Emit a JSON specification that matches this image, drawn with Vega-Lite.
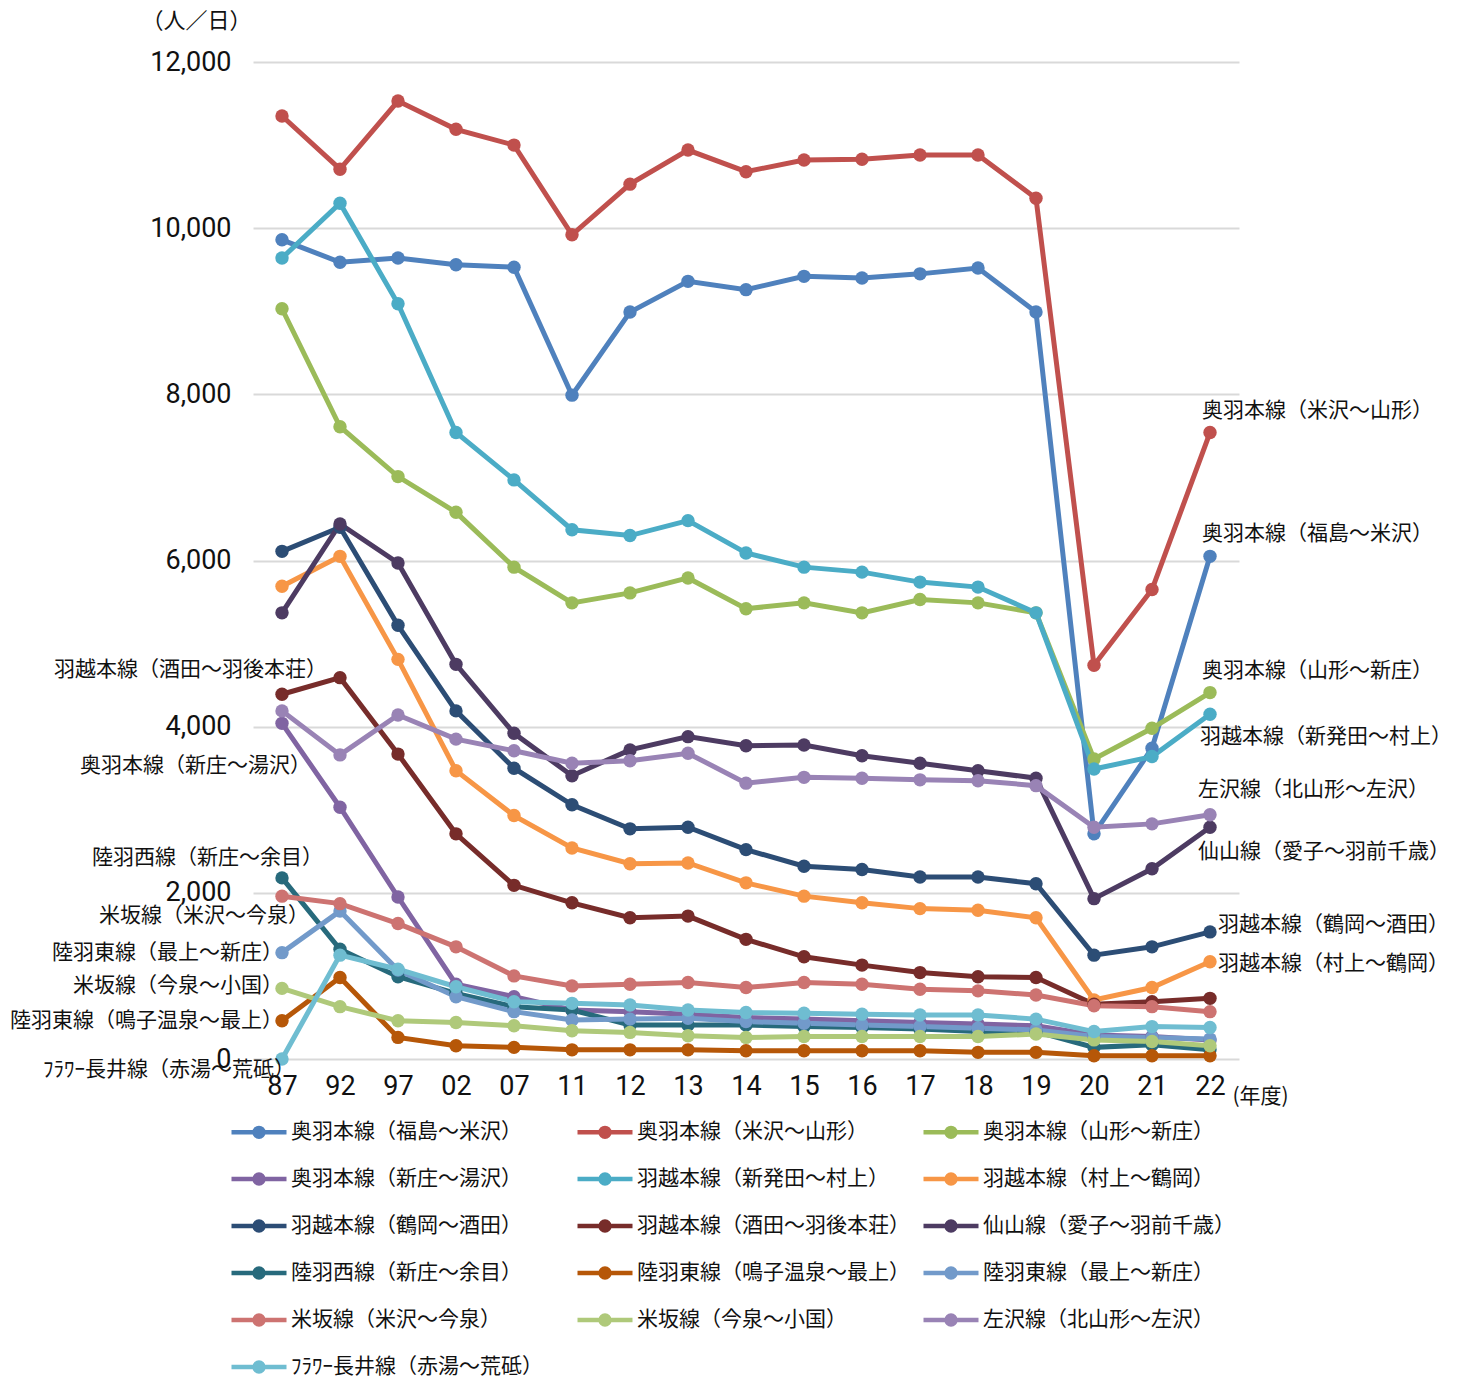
{
 "$schema": "https://vega.github.io/schema/vega-lite/v6.json",
 "width": 986,
 "height": 997,
 "autosize": {"type": "none"},
 "padding": {"left": 253, "top": 62, "right": 220, "bottom": 322},
 "background": "white",
 "config": {"view": {"stroke": null}, "font": "Noto Sans CJK JP"},
 "datasets": {
  "d": [
   {"series":"奥羽本線（福島～米沢）","year":"87","value":9860},{"series":"奥羽本線（福島～米沢）","year":"92","value":9590},{"series":"奥羽本線（福島～米沢）","year":"97","value":9640},{"series":"奥羽本線（福島～米沢）","year":"02","value":9560},{"series":"奥羽本線（福島～米沢）","year":"07","value":9530},{"series":"奥羽本線（福島～米沢）","year":"11","value":7990},{"series":"奥羽本線（福島～米沢）","year":"12","value":8990},{"series":"奥羽本線（福島～米沢）","year":"13","value":9360},{"series":"奥羽本線（福島～米沢）","year":"14","value":9260},{"series":"奥羽本線（福島～米沢）","year":"15","value":9420},{"series":"奥羽本線（福島～米沢）","year":"16","value":9400},{"series":"奥羽本線（福島～米沢）","year":"17","value":9450},{"series":"奥羽本線（福島～米沢）","year":"18","value":9520},{"series":"奥羽本線（福島～米沢）","year":"19","value":8990},{"series":"奥羽本線（福島～米沢）","year":"20","value":2710},{"series":"奥羽本線（福島～米沢）","year":"21","value":3740},{"series":"奥羽本線（福島～米沢）","year":"22","value":6050},
   {"series":"奥羽本線（米沢～山形）","year":"87","value":11350},{"series":"奥羽本線（米沢～山形）","year":"92","value":10710},{"series":"奥羽本線（米沢～山形）","year":"97","value":11530},{"series":"奥羽本線（米沢～山形）","year":"02","value":11190},{"series":"奥羽本線（米沢～山形）","year":"07","value":11000},{"series":"奥羽本線（米沢～山形）","year":"11","value":9920},{"series":"奥羽本線（米沢～山形）","year":"12","value":10530},{"series":"奥羽本線（米沢～山形）","year":"13","value":10940},{"series":"奥羽本線（米沢～山形）","year":"14","value":10680},{"series":"奥羽本線（米沢～山形）","year":"15","value":10820},{"series":"奥羽本線（米沢～山形）","year":"16","value":10830},{"series":"奥羽本線（米沢～山形）","year":"17","value":10880},{"series":"奥羽本線（米沢～山形）","year":"18","value":10880},{"series":"奥羽本線（米沢～山形）","year":"19","value":10360},{"series":"奥羽本線（米沢～山形）","year":"20","value":4740},{"series":"奥羽本線（米沢～山形）","year":"21","value":5650},{"series":"奥羽本線（米沢～山形）","year":"22","value":7540},
   {"series":"奥羽本線（山形～新庄）","year":"87","value":9030},{"series":"奥羽本線（山形～新庄）","year":"92","value":7610},{"series":"奥羽本線（山形～新庄）","year":"97","value":7010},{"series":"奥羽本線（山形～新庄）","year":"02","value":6580},{"series":"奥羽本線（山形～新庄）","year":"07","value":5920},{"series":"奥羽本線（山形～新庄）","year":"11","value":5490},{"series":"奥羽本線（山形～新庄）","year":"12","value":5610},{"series":"奥羽本線（山形～新庄）","year":"13","value":5790},{"series":"奥羽本線（山形～新庄）","year":"14","value":5420},{"series":"奥羽本線（山形～新庄）","year":"15","value":5490},{"series":"奥羽本線（山形～新庄）","year":"16","value":5370},{"series":"奥羽本線（山形～新庄）","year":"17","value":5530},{"series":"奥羽本線（山形～新庄）","year":"18","value":5490},{"series":"奥羽本線（山形～新庄）","year":"19","value":5370},{"series":"奥羽本線（山形～新庄）","year":"20","value":3610},{"series":"奥羽本線（山形～新庄）","year":"21","value":3980},{"series":"奥羽本線（山形～新庄）","year":"22","value":4410},
   {"series":"奥羽本線（新庄～湯沢）","year":"87","value":4040},{"series":"奥羽本線（新庄～湯沢）","year":"92","value":3030},{"series":"奥羽本線（新庄～湯沢）","year":"97","value":1950},{"series":"奥羽本線（新庄～湯沢）","year":"02","value":900},{"series":"奥羽本線（新庄～湯沢）","year":"07","value":750},{"series":"奥羽本線（新庄～湯沢）","year":"11","value":590},{"series":"奥羽本線（新庄～湯沢）","year":"12","value":570},{"series":"奥羽本線（新庄～湯沢）","year":"13","value":540},{"series":"奥羽本線（新庄～湯沢）","year":"14","value":500},{"series":"奥羽本線（新庄～湯沢）","year":"15","value":480},{"series":"奥羽本線（新庄～湯沢）","year":"16","value":460},{"series":"奥羽本線（新庄～湯沢）","year":"17","value":440},{"series":"奥羽本線（新庄～湯沢）","year":"18","value":420},{"series":"奥羽本線（新庄～湯沢）","year":"19","value":400},{"series":"奥羽本線（新庄～湯沢）","year":"20","value":290},{"series":"奥羽本線（新庄～湯沢）","year":"21","value":270},{"series":"奥羽本線（新庄～湯沢）","year":"22","value":230},
   {"series":"羽越本線（新発田～村上）","year":"87","value":9640},{"series":"羽越本線（新発田～村上）","year":"92","value":10300},{"series":"羽越本線（新発田～村上）","year":"97","value":9090},{"series":"羽越本線（新発田～村上）","year":"02","value":7540},{"series":"羽越本線（新発田～村上）","year":"07","value":6970},{"series":"羽越本線（新発田～村上）","year":"11","value":6370},{"series":"羽越本線（新発田～村上）","year":"12","value":6300},{"series":"羽越本線（新発田～村上）","year":"13","value":6480},{"series":"羽越本線（新発田～村上）","year":"14","value":6090},{"series":"羽越本線（新発田～村上）","year":"15","value":5920},{"series":"羽越本線（新発田～村上）","year":"16","value":5860},{"series":"羽越本線（新発田～村上）","year":"17","value":5740},{"series":"羽越本線（新発田～村上）","year":"18","value":5680},{"series":"羽越本線（新発田～村上）","year":"19","value":5370},{"series":"羽越本線（新発田～村上）","year":"20","value":3490},{"series":"羽越本線（新発田～村上）","year":"21","value":3640},{"series":"羽越本線（新発田～村上）","year":"22","value":4150},
   {"series":"羽越本線（村上～鶴岡）","year":"87","value":5690},{"series":"羽越本線（村上～鶴岡）","year":"92","value":6050},{"series":"羽越本線（村上～鶴岡）","year":"97","value":4810},{"series":"羽越本線（村上～鶴岡）","year":"02","value":3470},{"series":"羽越本線（村上～鶴岡）","year":"07","value":2930},{"series":"羽越本線（村上～鶴岡）","year":"11","value":2540},{"series":"羽越本線（村上～鶴岡）","year":"12","value":2350},{"series":"羽越本線（村上～鶴岡）","year":"13","value":2360},{"series":"羽越本線（村上～鶴岡）","year":"14","value":2120},{"series":"羽越本線（村上～鶴岡）","year":"15","value":1960},{"series":"羽越本線（村上～鶴岡）","year":"16","value":1880},{"series":"羽越本線（村上～鶴岡）","year":"17","value":1810},{"series":"羽越本線（村上～鶴岡）","year":"18","value":1790},{"series":"羽越本線（村上～鶴岡）","year":"19","value":1700},{"series":"羽越本線（村上～鶴岡）","year":"20","value":710},{"series":"羽越本線（村上～鶴岡）","year":"21","value":860},{"series":"羽越本線（村上～鶴岡）","year":"22","value":1170},
   {"series":"羽越本線（鶴岡～酒田）","year":"87","value":6110},{"series":"羽越本線（鶴岡～酒田）","year":"92","value":6400},{"series":"羽越本線（鶴岡～酒田）","year":"97","value":5220},{"series":"羽越本線（鶴岡～酒田）","year":"02","value":4190},{"series":"羽越本線（鶴岡～酒田）","year":"07","value":3500},{"series":"羽越本線（鶴岡～酒田）","year":"11","value":3060},{"series":"羽越本線（鶴岡～酒田）","year":"12","value":2770},{"series":"羽越本線（鶴岡～酒田）","year":"13","value":2790},{"series":"羽越本線（鶴岡～酒田）","year":"14","value":2520},{"series":"羽越本線（鶴岡～酒田）","year":"15","value":2320},{"series":"羽越本線（鶴岡～酒田）","year":"16","value":2280},{"series":"羽越本線（鶴岡～酒田）","year":"17","value":2190},{"series":"羽越本線（鶴岡～酒田）","year":"18","value":2190},{"series":"羽越本線（鶴岡～酒田）","year":"19","value":2110},{"series":"羽越本線（鶴岡～酒田）","year":"20","value":1250},{"series":"羽越本線（鶴岡～酒田）","year":"21","value":1350},{"series":"羽越本線（鶴岡～酒田）","year":"22","value":1530},
   {"series":"羽越本線（酒田～羽後本荘）","year":"87","value":4390},{"series":"羽越本線（酒田～羽後本荘）","year":"92","value":4590},{"series":"羽越本線（酒田～羽後本荘）","year":"97","value":3670},{"series":"羽越本線（酒田～羽後本荘）","year":"02","value":2710},{"series":"羽越本線（酒田～羽後本荘）","year":"07","value":2090},{"series":"羽越本線（酒田～羽後本荘）","year":"11","value":1880},{"series":"羽越本線（酒田～羽後本荘）","year":"12","value":1700},{"series":"羽越本線（酒田～羽後本荘）","year":"13","value":1720},{"series":"羽越本線（酒田～羽後本荘）","year":"14","value":1440},{"series":"羽越本線（酒田～羽後本荘）","year":"15","value":1230},{"series":"羽越本線（酒田～羽後本荘）","year":"16","value":1130},{"series":"羽越本線（酒田～羽後本荘）","year":"17","value":1040},{"series":"羽越本線（酒田～羽後本荘）","year":"18","value":990},{"series":"羽越本線（酒田～羽後本荘）","year":"19","value":980},{"series":"羽越本線（酒田～羽後本荘）","year":"20","value":660},{"series":"羽越本線（酒田～羽後本荘）","year":"21","value":690},{"series":"羽越本線（酒田～羽後本荘）","year":"22","value":730},
   {"series":"仙山線（愛子～羽前千歳）","year":"87","value":5370},{"series":"仙山線（愛子～羽前千歳）","year":"92","value":6440},{"series":"仙山線（愛子～羽前千歳）","year":"97","value":5970},{"series":"仙山線（愛子～羽前千歳）","year":"02","value":4750},{"series":"仙山線（愛子～羽前千歳）","year":"07","value":3920},{"series":"仙山線（愛子～羽前千歳）","year":"11","value":3410},{"series":"仙山線（愛子～羽前千歳）","year":"12","value":3720},{"series":"仙山線（愛子～羽前千歳）","year":"13","value":3880},{"series":"仙山線（愛子～羽前千歳）","year":"14","value":3770},{"series":"仙山線（愛子～羽前千歳）","year":"15","value":3780},{"series":"仙山線（愛子～羽前千歳）","year":"16","value":3650},{"series":"仙山線（愛子～羽前千歳）","year":"17","value":3560},{"series":"仙山線（愛子～羽前千歳）","year":"18","value":3470},{"series":"仙山線（愛子～羽前千歳）","year":"19","value":3380},{"series":"仙山線（愛子～羽前千歳）","year":"20","value":1930},{"series":"仙山線（愛子～羽前千歳）","year":"21","value":2290},{"series":"仙山線（愛子～羽前千歳）","year":"22","value":2790},
   {"series":"陸羽西線（新庄～余目）","year":"87","value":2180},{"series":"陸羽西線（新庄～余目）","year":"92","value":1320},{"series":"陸羽西線（新庄～余目）","year":"97","value":990},{"series":"陸羽西線（新庄～余目）","year":"02","value":790},{"series":"陸羽西線（新庄～余目）","year":"07","value":630},{"series":"陸羽西線（新庄～余目）","year":"11","value":590},{"series":"陸羽西線（新庄～余目）","year":"12","value":410},{"series":"陸羽西線（新庄～余目）","year":"13","value":410},{"series":"陸羽西線（新庄～余目）","year":"14","value":410},{"series":"陸羽西線（新庄～余目）","year":"15","value":390},{"series":"陸羽西線（新庄～余目）","year":"16","value":380},{"series":"陸羽西線（新庄～余目）","year":"17","value":360},{"series":"陸羽西線（新庄～余目）","year":"18","value":330},{"series":"陸羽西線（新庄～余目）","year":"19","value":330},{"series":"陸羽西線（新庄～余目）","year":"20","value":140},{"series":"陸羽西線（新庄～余目）","year":"21","value":170},{"series":"陸羽西線（新庄～余目）","year":"22","value":110},
   {"series":"陸羽東線（鳴子温泉～最上）","year":"87","value":460},{"series":"陸羽東線（鳴子温泉～最上）","year":"92","value":980},{"series":"陸羽東線（鳴子温泉～最上）","year":"97","value":260},{"series":"陸羽東線（鳴子温泉～最上）","year":"02","value":160},{"series":"陸羽東線（鳴子温泉～最上）","year":"07","value":140},{"series":"陸羽東線（鳴子温泉～最上）","year":"11","value":110},{"series":"陸羽東線（鳴子温泉～最上）","year":"12","value":110},{"series":"陸羽東線（鳴子温泉～最上）","year":"13","value":110},{"series":"陸羽東線（鳴子温泉～最上）","year":"14","value":100},{"series":"陸羽東線（鳴子温泉～最上）","year":"15","value":100},{"series":"陸羽東線（鳴子温泉～最上）","year":"16","value":100},{"series":"陸羽東線（鳴子温泉～最上）","year":"17","value":100},{"series":"陸羽東線（鳴子温泉～最上）","year":"18","value":80},{"series":"陸羽東線（鳴子温泉～最上）","year":"19","value":80},{"series":"陸羽東線（鳴子温泉～最上）","year":"20","value":40},{"series":"陸羽東線（鳴子温泉～最上）","year":"21","value":40},{"series":"陸羽東線（鳴子温泉～最上）","year":"22","value":40},
   {"series":"陸羽東線（最上～新庄）","year":"87","value":1280},{"series":"陸羽東線（最上～新庄）","year":"92","value":1780},{"series":"陸羽東線（最上～新庄）","year":"97","value":1070},{"series":"陸羽東線（最上～新庄）","year":"02","value":750},{"series":"陸羽東線（最上～新庄）","year":"07","value":570},{"series":"陸羽東線（最上～新庄）","year":"11","value":470},{"series":"陸羽東線（最上～新庄）","year":"12","value":480},{"series":"陸羽東線（最上～新庄）","year":"13","value":490},{"series":"陸羽東線（最上～新庄）","year":"14","value":450},{"series":"陸羽東線（最上～新庄）","year":"15","value":430},{"series":"陸羽東線（最上～新庄）","year":"16","value":410},{"series":"陸羽東線（最上～新庄）","year":"17","value":390},{"series":"陸羽東線（最上～新庄）","year":"18","value":370},{"series":"陸羽東線（最上～新庄）","year":"19","value":350},{"series":"陸羽東線（最上～新庄）","year":"20","value":270},{"series":"陸羽東線（最上～新庄）","year":"21","value":260},{"series":"陸羽東線（最上～新庄）","year":"22","value":240},
   {"series":"米坂線（米沢～今泉）","year":"87","value":1960},{"series":"米坂線（米沢～今泉）","year":"92","value":1870},{"series":"米坂線（米沢～今泉）","year":"97","value":1630},{"series":"米坂線（米沢～今泉）","year":"02","value":1350},{"series":"米坂線（米沢～今泉）","year":"07","value":1000},{"series":"米坂線（米沢～今泉）","year":"11","value":880},{"series":"米坂線（米沢～今泉）","year":"12","value":900},{"series":"米坂線（米沢～今泉）","year":"13","value":920},{"series":"米坂線（米沢～今泉）","year":"14","value":860},{"series":"米坂線（米沢～今泉）","year":"15","value":920},{"series":"米坂線（米沢～今泉）","year":"16","value":900},{"series":"米坂線（米沢～今泉）","year":"17","value":840},{"series":"米坂線（米沢～今泉）","year":"18","value":820},{"series":"米坂線（米沢～今泉）","year":"19","value":770},{"series":"米坂線（米沢～今泉）","year":"20","value":640},{"series":"米坂線（米沢～今泉）","year":"21","value":630},{"series":"米坂線（米沢～今泉）","year":"22","value":570},
   {"series":"米坂線（今泉～小国）","year":"87","value":850},{"series":"米坂線（今泉～小国）","year":"92","value":630},{"series":"米坂線（今泉～小国）","year":"97","value":460},{"series":"米坂線（今泉～小国）","year":"02","value":440},{"series":"米坂線（今泉～小国）","year":"07","value":400},{"series":"米坂線（今泉～小国）","year":"11","value":340},{"series":"米坂線（今泉～小国）","year":"12","value":320},{"series":"米坂線（今泉～小国）","year":"13","value":280},{"series":"米坂線（今泉～小国）","year":"14","value":260},{"series":"米坂線（今泉～小国）","year":"15","value":270},{"series":"米坂線（今泉～小国）","year":"16","value":270},{"series":"米坂線（今泉～小国）","year":"17","value":270},{"series":"米坂線（今泉～小国）","year":"18","value":270},{"series":"米坂線（今泉～小国）","year":"19","value":300},{"series":"米坂線（今泉～小国）","year":"20","value":230},{"series":"米坂線（今泉～小国）","year":"21","value":210},{"series":"米坂線（今泉～小国）","year":"22","value":160},
   {"series":"左沢線（北山形～左沢）","year":"87","value":4190},{"series":"左沢線（北山形～左沢）","year":"92","value":3660},{"series":"左沢線（北山形～左沢）","year":"97","value":4140},{"series":"左沢線（北山形～左沢）","year":"02","value":3850},{"series":"左沢線（北山形～左沢）","year":"07","value":3710},{"series":"左沢線（北山形～左沢）","year":"11","value":3560},{"series":"左沢線（北山形～左沢）","year":"12","value":3590},{"series":"左沢線（北山形～左沢）","year":"13","value":3680},{"series":"左沢線（北山形～左沢）","year":"14","value":3320},{"series":"左沢線（北山形～左沢）","year":"15","value":3390},{"series":"左沢線（北山形～左沢）","year":"16","value":3380},{"series":"左沢線（北山形～左沢）","year":"17","value":3360},{"series":"左沢線（北山形～左沢）","year":"18","value":3350},{"series":"左沢線（北山形～左沢）","year":"19","value":3290},{"series":"左沢線（北山形～左沢）","year":"20","value":2790},{"series":"左沢線（北山形～左沢）","year":"21","value":2830},{"series":"左沢線（北山形～左沢）","year":"22","value":2940},
   {"series":"ﾌﾗﾜｰ長井線（赤湯～荒砥）","year":"87","value":0},{"series":"ﾌﾗﾜｰ長井線（赤湯～荒砥）","year":"92","value":1250},{"series":"ﾌﾗﾜｰ長井線（赤湯～荒砥）","year":"97","value":1080},{"series":"ﾌﾗﾜｰ長井線（赤湯～荒砥）","year":"02","value":870},{"series":"ﾌﾗﾜｰ長井線（赤湯～荒砥）","year":"07","value":690},{"series":"ﾌﾗﾜｰ長井線（赤湯～荒砥）","year":"11","value":670},{"series":"ﾌﾗﾜｰ長井線（赤湯～荒砥）","year":"12","value":650},{"series":"ﾌﾗﾜｰ長井線（赤湯～荒砥）","year":"13","value":590},{"series":"ﾌﾗﾜｰ長井線（赤湯～荒砥）","year":"14","value":560},{"series":"ﾌﾗﾜｰ長井線（赤湯～荒砥）","year":"15","value":550},{"series":"ﾌﾗﾜｰ長井線（赤湯～荒砥）","year":"16","value":540},{"series":"ﾌﾗﾜｰ長井線（赤湯～荒砥）","year":"17","value":530},{"series":"ﾌﾗﾜｰ長井線（赤湯～荒砥）","year":"18","value":530},{"series":"ﾌﾗﾜｰ長井線（赤湯～荒砥）","year":"19","value":480},{"series":"ﾌﾗﾜｰ長井線（赤湯～荒砥）","year":"20","value":330},{"series":"ﾌﾗﾜｰ長井線（赤湯～荒砥）","year":"21","value":390},{"series":"ﾌﾗﾜｰ長井線（赤湯～荒砥）","year":"22","value":380}
  ]
 },
 "data": {"name": "d"},
 "encoding": {
  "x": {"field": "year", "type": "ordinal",
   "scale": {"type": "point", "padding": 0.5, "domain": ["87","92","97","02","07","11","12","13","14","15","16","17","18","19","20","21","22"]},
   "axis": {"title": "(年度)", "titleFont": "Noto Sans CJK JP", "titleFontSize": 21, "titleFontWeight": "normal", "titleColor": "#111111", "titleAlign": "left", "titleBaseline": "middle", "titleX": 979, "titleY": 37, "labelAngle": 0, "labelFont": "Roboto", "labelFontSize": 27, "labelColor": "#111111", "labelPadding": 14, "ticks": false, "domain": false, "grid": false}},
  "y": {"field": "value", "type": "quantitative",
   "scale": {"domain": [0, 12000], "nice": false},
   "axis": {"title": "（人／日）", "titleFont": "Noto Sans CJK JP", "titleFontSize": 22, "titleFontWeight": "normal", "titleColor": "#111111", "titleAngle": 0, "titleAlign": "center", "titleBaseline": "middle", "titleX": -57, "titleY": -42, "values": [0,2000,4000,6000,8000,10000,12000], "format": ",.0f", "labelFont": "Roboto", "labelFontSize": 27, "labelColor": "#111111", "labelPadding": 22, "ticks": false, "domain": false, "grid": true, "gridColor": "#D9D9D9", "gridWidth": 2}}
 },
 "layer": [
  {
   "mark": {"type": "line", "strokeWidth": 5, "point": {"filled": true, "size": 180, "opacity": 1}},
   "encoding": {
    "color": {"field": "series", "type": "nominal",
     "scale": {"domain": ["奥羽本線（福島～米沢）","奥羽本線（米沢～山形）","奥羽本線（山形～新庄）","奥羽本線（新庄～湯沢）","羽越本線（新発田～村上）","羽越本線（村上～鶴岡）","羽越本線（鶴岡～酒田）","羽越本線（酒田～羽後本荘）","仙山線（愛子～羽前千歳）","陸羽西線（新庄～余目）","陸羽東線（鳴子温泉～最上）","陸羽東線（最上～新庄）","米坂線（米沢～今泉）","米坂線（今泉～小国）","左沢線（北山形～左沢）","ﾌﾗﾜｰ長井線（赤湯～荒砥）"],
      "range": ["#4F81BD","#C0504D","#9BBB59","#8064A2","#4BACC6","#F79646","#2C4D75","#772C2A","#4D3B62","#276A7C","#B65708","#729ACA","#CD7371","#AFC97A","#9983B5","#6FBDD1"]},
     "legend": {"title": null, "orient": "none", "direction": "horizontal", "legendX": -24, "legendY": 1040, "columns": 3, "gridAlign": "all", "columnPadding": 4, "rowPadding": 3, "labelFont": "Noto Sans CJK JP", "labelFontSize": 21, "labelColor": "#111111", "labelLimit": 400, "labelOffset": 2, "symbolType": "M-1,0L1,0M-0.16,0A0.16,0.16,0,1,1,0.16,0A0.16,0.16,0,1,1,-0.16,0M-0.06,0A0.06,0.06,0,1,1,0.06,0A0.06,0.06,0,1,1,-0.06,0", "symbolSize": 3025, "symbolStrokeWidth": 4.5}},
    "order": {"value": null}
   }
  },
  {"transform": [{"filter": "datum.year == '22' && datum.series == '奥羽本線（米沢～山形）'"}], "mark": {"type": "text", "align": "left", "baseline": "middle", "dx": -8, "dy": -22, "fontSize": 21, "font": "Noto Sans CJK JP", "color": "#111111"}, "encoding": {"text": {"field": "series"}}},
  {"transform": [{"filter": "datum.year == '22' && datum.series == '奥羽本線（福島～米沢）'"}], "mark": {"type": "text", "align": "left", "baseline": "middle", "dx": -8, "dy": -22, "fontSize": 21, "font": "Noto Sans CJK JP", "color": "#111111"}, "encoding": {"text": {"field": "series"}}},
  {"transform": [{"filter": "datum.year == '22' && datum.series == '奥羽本線（山形～新庄）'"}], "mark": {"type": "text", "align": "left", "baseline": "middle", "dx": -8, "dy": -22, "fontSize": 21, "font": "Noto Sans CJK JP", "color": "#111111"}, "encoding": {"text": {"field": "series"}}},
  {"transform": [{"filter": "datum.year == '22' && datum.series == '羽越本線（新発田～村上）'"}], "mark": {"type": "text", "align": "left", "baseline": "middle", "dx": -10, "dy": 23, "fontSize": 21, "font": "Noto Sans CJK JP", "color": "#111111"}, "encoding": {"text": {"field": "series"}}},
  {"transform": [{"filter": "datum.year == '22' && datum.series == '左沢線（北山形～左沢）'"}], "mark": {"type": "text", "align": "left", "baseline": "middle", "dx": -12, "dy": -25, "fontSize": 21, "font": "Noto Sans CJK JP", "color": "#111111"}, "encoding": {"text": {"field": "series"}}},
  {"transform": [{"filter": "datum.year == '22' && datum.series == '仙山線（愛子～羽前千歳）'"}], "mark": {"type": "text", "align": "left", "baseline": "middle", "dx": -12, "dy": 25, "fontSize": 21, "font": "Noto Sans CJK JP", "color": "#111111"}, "encoding": {"text": {"field": "series"}}},
  {"transform": [{"filter": "datum.year == '22' && datum.series == '羽越本線（鶴岡～酒田）'"}], "mark": {"type": "text", "align": "left", "baseline": "middle", "dx": 8, "dy": -7, "fontSize": 21, "font": "Noto Sans CJK JP", "color": "#111111"}, "encoding": {"text": {"field": "series"}}},
  {"transform": [{"filter": "datum.year == '22' && datum.series == '羽越本線（村上～鶴岡）'"}], "mark": {"type": "text", "align": "left", "baseline": "middle", "dx": 8, "dy": 2, "fontSize": 21, "font": "Noto Sans CJK JP", "color": "#111111"}, "encoding": {"text": {"field": "series"}}},
  {"transform": [{"filter": "datum.year == '87' && datum.series == '羽越本線（酒田～羽後本荘）'"}], "mark": {"type": "text", "align": "right", "baseline": "middle", "dx": 45, "dy": -24, "fontSize": 21, "font": "Noto Sans CJK JP", "color": "#111111"}, "encoding": {"text": {"field": "series"}}},
  {"transform": [{"filter": "datum.year == '87' && datum.series == '奥羽本線（新庄～湯沢）'"}], "mark": {"type": "text", "align": "right", "baseline": "middle", "dx": 29, "dy": 43, "fontSize": 21, "font": "Noto Sans CJK JP", "color": "#111111"}, "encoding": {"text": {"field": "series"}}},
  {"transform": [{"filter": "datum.year == '87' && datum.series == '陸羽西線（新庄～余目）'"}], "mark": {"type": "text", "align": "right", "baseline": "middle", "dx": 41, "dy": -20, "fontSize": 21, "font": "Noto Sans CJK JP", "color": "#111111"}, "encoding": {"text": {"field": "series"}}},
  {"transform": [{"filter": "datum.year == '87' && datum.series == '米坂線（米沢～今泉）'"}], "mark": {"type": "text", "align": "right", "baseline": "middle", "dx": 27, "dy": 20, "fontSize": 21, "font": "Noto Sans CJK JP", "color": "#111111"}, "encoding": {"text": {"field": "series"}}},
  {"transform": [{"filter": "datum.year == '87' && datum.series == '陸羽東線（最上～新庄）'"}], "mark": {"type": "text", "align": "right", "baseline": "middle", "dx": 1, "dy": 0, "fontSize": 21, "font": "Noto Sans CJK JP", "color": "#111111"}, "encoding": {"text": {"field": "series"}}},
  {"transform": [{"filter": "datum.year == '87' && datum.series == '米坂線（今泉～小国）'"}], "mark": {"type": "text", "align": "right", "baseline": "middle", "dx": 1, "dy": -2, "fontSize": 21, "font": "Noto Sans CJK JP", "color": "#111111"}, "encoding": {"text": {"field": "series"}}},
  {"transform": [{"filter": "datum.year == '87' && datum.series == '陸羽東線（鳴子温泉～最上）'"}], "mark": {"type": "text", "align": "right", "baseline": "middle", "dx": 1, "dy": 0, "fontSize": 21, "font": "Noto Sans CJK JP", "color": "#111111"}, "encoding": {"text": {"field": "series"}}},
  {"transform": [{"filter": "datum.year == '87' && datum.series == 'ﾌﾗﾜｰ長井線（赤湯～荒砥）'"}], "mark": {"type": "text", "align": "right", "baseline": "middle", "dx": 13, "dy": 11, "fontSize": 21, "font": "Noto Sans CJK JP", "color": "#111111"}, "encoding": {"text": {"field": "series"}}}
 ]
}
